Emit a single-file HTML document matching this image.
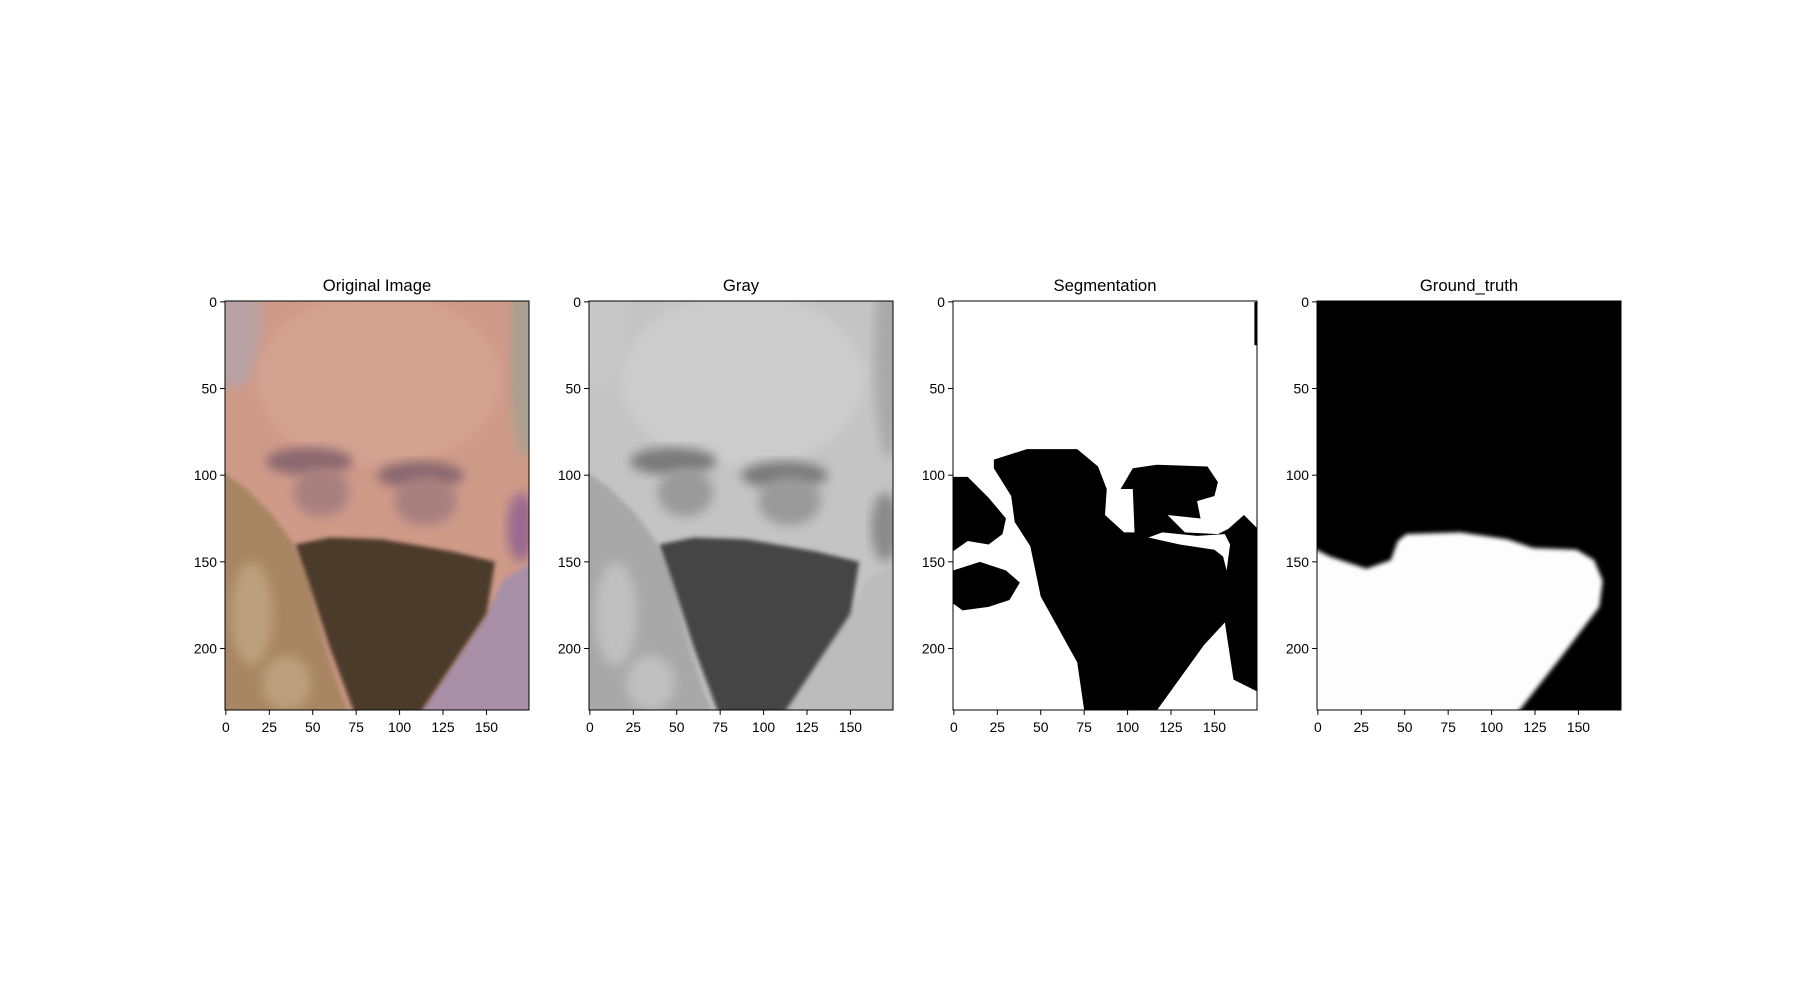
<!DOCTYPE html>
<html><head><meta charset="utf-8"><style>
html,body{margin:0;padding:0;background:#fff}
svg text{font-family:"Liberation Sans","DejaVu Sans",sans-serif;fill:#000}
</style></head><body>
<svg id="fig" width="1800" height="1000" xmlns="http://www.w3.org/2000/svg">
<defs>
<filter id="b3" x="-20%" y="-20%" width="140%" height="140%"><feGaussianBlur stdDeviation="3"/></filter>
<filter id="b1" x="-20%" y="-20%" width="140%" height="140%"><feGaussianBlur stdDeviation="1.2"/></filter>
</defs>
</svg>
<script>
const titles = ["Original Image","Gray","Segmentation","Ground_truth"];
const xTicks = [0,25,50,75,100,125,150];
const yTicks = [0,50,100,150,200];
const imgW = 175, imgH = 236;
const hairPoly = [[-2,98],[12,108],[26,122],[38,138],[47,160],[56,195],[66,225],[72,240],[-2,240]];
const maskPoly = [[40,140],[60,136],[90,137],[130,144],[155,150],[150,180],[130,210],[110,240],[75,240],[60,200],[47,160]];
const lowerRightPoly = [[110,240],[150,180],[160,160],[177,150],[177,240]];
const segMain = [[23,91],[42,85],[71,85],[83,95],[88,108],[87,123],[98,133],[104,133],[103,108],[96,108],[103,96],[117,94],[146,95],[152,104],[150,112],[140,115],[142,125],[123,123],[133,133],[152,134],[158,131],[167,123],[175,131],[175,225],[161,218],[156,185],[144,198],[117,235.5],[75,235.5],[71,208],[50,170],[44,141],[35,127],[33,112],[23,96]];
const segHole = [[112,136],[130,140],[150,143],[155,147],[157,155],[159,140],[156,134],[140,135],[120,133]];
const segLeft1 = [[-0.5,101],[8,101],[20,113],[30,125],[28,134],[20,140],[8,138],[-0.5,144]];
const segLeft2 = [[-0.5,155],[15,150],[30,155],[38,162],[32,172],[20,176],[5,178],[-0.5,174]];
const gtPoly = [[-5,141],[7,147],[28,154],[42,149],[46,138],[51,134],[82,133],[109,137],[124,142],[149,143],[159,149],[164,161],[162,176],[140,205],[111,242],[-5,242]];

const NS="http://www.w3.org/2000/svg";
const fig=document.getElementById('fig');
const axX0=[225,589,953,1317], axY0=301, axW=304, axH=409;
const sx=axW/imgW, sy=axH/imgH;
function el(t,a,p){const e=document.createElementNS(NS,t);for(const k in a)e.setAttribute(k,a[k]);(p||fig).appendChild(e);return e;}
function pts(a){return a.map(p=>p.join(',')).join(' ');}
function poly(g,a,fill,filt,name){const e=el('polygon',{points:pts(a),fill:fill},g);if(filt)e.setAttribute('filter',filt);


return e;}

function drawPhoto(g,c){
  const r=el('rect',{x:-0.5,y:-0.5,width:imgW,height:imgH,fill:c.skin},g);
  
  
  el('ellipse',{cx:5,cy:10,rx:15,ry:40,fill:c.corner,filter:'url(#b3)'},g);
  el('ellipse',{cx:172,cy:30,rx:8,ry:60,fill:c.edge,filter:'url(#b3)'},g);
  el('ellipse',{cx:88,cy:45,rx:70,ry:50,fill:c.skinLight,filter:'url(#b3)',opacity:0.6},g);
  el('ellipse',{cx:48,cy:92,rx:25,ry:8,fill:c.brow,filter:'url(#b3)'},g);
  el('ellipse',{cx:112,cy:100,rx:25,ry:8,fill:c.brow,filter:'url(#b3)'},g);
  el('ellipse',{cx:55,cy:110,rx:16,ry:14,fill:c.eye,filter:'url(#b3)'},g);
  el('ellipse',{cx:115,cy:115,rx:18,ry:14,fill:c.eye,filter:'url(#b3)'},g);
  el('ellipse',{cx:170,cy:130,rx:8,ry:20,fill:c.purple,filter:'url(#b3)'},g);
  poly(g,lowerRightPoly,c.lower,'url(#b1)','lower-right-region');
  poly(g,hairPoly,c.hair,'url(#b1)','hair-region');
  el('ellipse',{cx:15,cy:180,rx:12,ry:30,fill:c.hairLight,filter:'url(#b3)',opacity:0.7},g);
  el('ellipse',{cx:35,cy:220,rx:14,ry:16,fill:c.hairLight,filter:'url(#b3)',opacity:0.7},g);
  poly(g,maskPoly,c.mask,'url(#b1)','mask-region');
}

titles.forEach((t,i)=>{
  const x0=axX0[i];
  const g=el('g',{transform:`translate(${x0},${axY0}) scale(${sx},${sy}) translate(0.5,0.5)`});
  
  
  const clipId='c'+i;
  const cp=el('clipPath',{id:clipId},fig.querySelector('defs'));
  el('rect',{x:-0.5,y:-0.5,width:imgW,height:imgH},cp);
  g.setAttribute('clip-path',`url(#${clipId})`);
  if(i===0) drawPhoto(g,{skin:'#cf9a88',skinLight:'#d8a898',corner:'#b8a2a4',edge:'#a8a090',brow:'#8a6870',eye:'#a88080',purple:'#9a6a90',lower:'#a890a8',hair:'#a88664',hairLight:'#c4aa88',mask:'#4c3b2a'});
  else if(i===1) drawPhoto(g,{skin:'#c4c4c4',skinLight:'#d2d2d2',corner:'#c8c8c8',edge:'#a8a8a8',brow:'#7a7a7a',eye:'#9a9a9a',purple:'#8a8a8a',lower:'#bcbcbc',hair:'#a8a8a8',hairLight:'#cacaca',mask:'#444444'});
  else if(i===2){
    const r=el('rect',{x:-0.5,y:-0.5,width:imgW,height:imgH,fill:'#fff'},g);
    
    
    poly(g,segMain,'#000',null,'segmentation-main');
    poly(g,segHole,'#fff',null,'segmentation-hole');
    poly(g,segLeft1,'#000',null,'segmentation-left-upper');
    poly(g,segLeft2,'#000',null,'segmentation-left-lower');
    el('rect',{x:173,y:0,width:2,height:25,fill:'#000'},g);
  } else {
    const r=el('rect',{x:-0.5,y:-0.5,width:imgW,height:imgH,fill:'#000'},g);
    
    
    poly(g,gtPoly,'#fdfdfd','url(#b1)','ground-truth-mask');
  }
  const fr=el('rect',{x:x0,y:axY0,width:axW,height:axH,fill:'none',stroke:'#000','stroke-width':1});
  
  
  const tt=el('text',{x:x0+axW/2,y:291,'text-anchor':'middle','font-size':'16.7px'});
  tt.textContent=t;
  
  
  xTicks.forEach(v=>{
    const px=x0+(v+0.5)*sx;
    el('line',{x1:px,y1:axY0+axH,x2:px,y2:axY0+axH+4.9,stroke:'#000','stroke-width':1});
    const tx=el('text',{x:px,y:axY0+axH+22,'text-anchor':'middle','font-size':'13.9px'});
    tx.textContent=v;
    
    
  });
  yTicks.forEach(v=>{
    const py=axY0+(v+0.5)*sy;
    el('line',{x1:x0-4.9,y1:py,x2:x0,y2:py,stroke:'#000','stroke-width':1});
    const ty=el('text',{x:x0-8,y:py+5,'text-anchor':'end','font-size':'13.9px'});
    ty.textContent=v;
    
    
  });
});
</script>
</body></html>
